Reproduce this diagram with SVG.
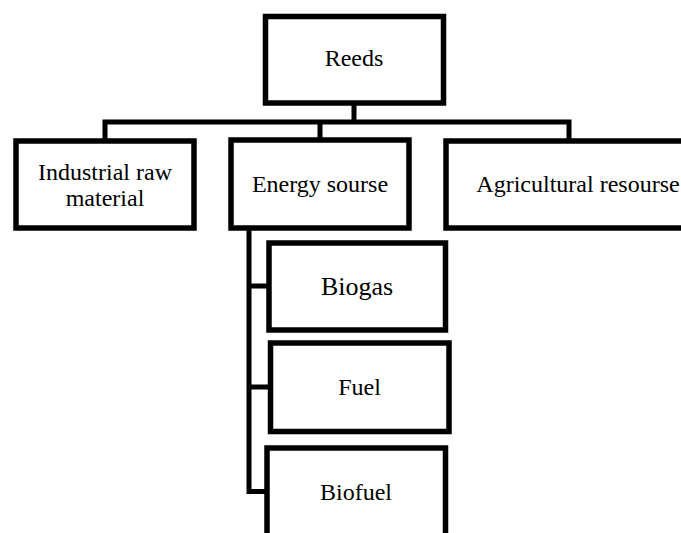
<svg xmlns="http://www.w3.org/2000/svg" width="681" height="533" viewBox="0 0 681 533">
<style>
.box{fill:#fff;stroke:#000;stroke-width:5.5}
.con{fill:none;stroke:#000;stroke-width:5}
text{font-family:"Liberation Serif","Times New Roman",serif;font-size:24px;fill:#000;text-anchor:middle}
</style>
<rect width="681" height="533" fill="#fff"/>
<g id="connectors">
<path class="con" d="M354,103 V122 M105,141 V122 H569 V141 M320,122 V141"/>
<path class="con" d="M249,228 V491.5 H267 M249,286 H269 M249,387 H270.5"/>
</g>
<g id="reeds"><rect class="box" x="265.5" y="16.5" width="178" height="86.5"/><text x="354" y="66">Reeds</text></g>
<g id="industrial"><rect class="box" x="16" y="141" width="178" height="87"/><text x="105" y="180">Industrial raw</text><text x="105" y="206">material</text></g>
<g id="energy"><rect class="box" x="231" y="140" width="178" height="88"/><text x="320" y="192">Energy sourse</text></g>
<g id="agricultural"><rect class="box" x="446" y="141" width="250" height="87"/><text x="578" y="192">Agricultural resourse</text></g>
<g id="biogas"><rect class="box" x="269" y="243" width="176.5" height="87"/><text x="357" y="295" style="font-size:26px">Biogas</text></g>
<g id="fuel"><rect class="box" x="270.5" y="343" width="178.5" height="88.5"/><text x="359.5" y="395">Fuel</text></g>
<g id="biofuel"><rect class="box" x="267" y="448" width="178.5" height="100"/><text x="356" y="500">Biofuel</text></g>
</svg>
